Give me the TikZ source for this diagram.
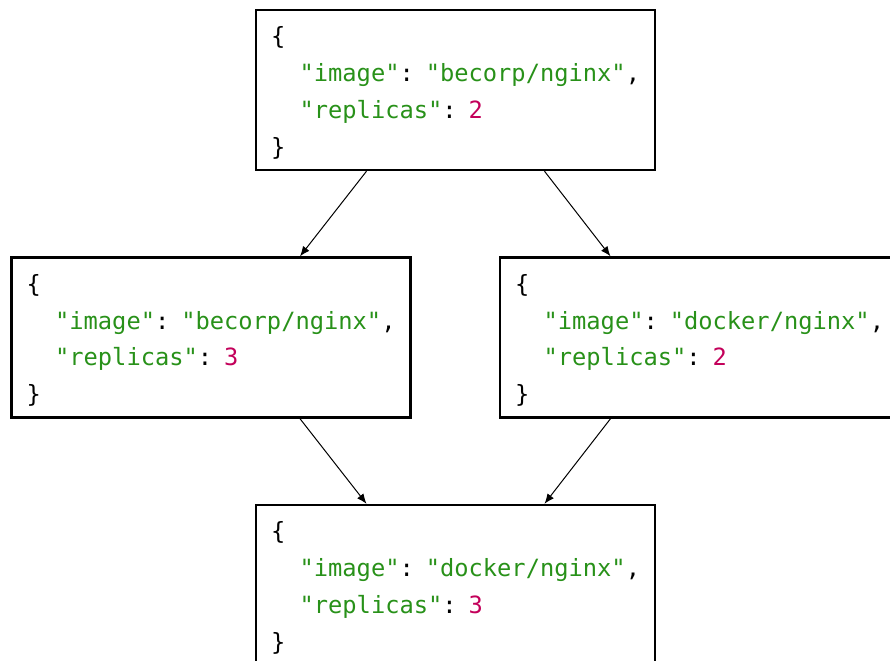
\documentclass[tikz,border=0pt]{standalone}
\usepackage{fontspec}
\usepackage{xcolor}
\setmonofont{DejaVu Sans Mono}
\usetikzlibrary{positioning,arrows.meta}
\definecolor{jsongreen}{RGB}{40,145,25}
\definecolor{jsonnum}{RGB}{195,0,90}
\newcommand{\jstr}[1]{\textcolor{jsongreen}{"#1"}}
\newcommand{\jnum}[1]{\textcolor{jsonnum}{#1}}
\newcommand{\jind}{\hphantom{xx}}
% one deployment spec: image, replicas
\newcommand{\spec}[2]{\rule{0pt}{18pt}\{\\
  \mbox{\jind\jstr{image}: \jstr{#1},}\\
  \mbox{\jind\jstr{replicas}: \jnum{#2}}\\\}}
\tikzset{
  % --- spec boxes ------------------------------------------------------------
  specbox/.style={rectangle,draw,line width=1.8pt,align=left,
                  text width=276.75pt,inner xsep=11.25pt,inner ysep=0pt,
                  minimum height=120pt,
                  font=\ttfamily\fontsize{17.8}{27.6}\selectfont},
  % --- merges ----------------------------------------------------------------
  flow/.style={-{Latex[length=7.5pt,width=6pt]},line width=0.75pt},
}

\begin{document}
\begin{tikzpicture}[x=0.75pt, y=-0.75pt]
  \useasboundingbox (0,0) rectangle (890,661);
  \clip (0,0) rectangle (890,661);

  \node[specbox] (base)   at (455.5,90)  {\spec{becorp/nginx}{2}};
  \node[specbox] (scale)  at (211,337.5) {\spec{becorp/nginx}{3}};
  \node[specbox] (image)  at (699.5,337.5) {\spec{docker/nginx}{2}};
  \node[specbox] (merged) at (455.5,585) {\spec{docker/nginx}{3}};

  % both edits start from the same base ...
  \draw[flow] ([xshift=-66.75pt]base.south) -- ([xshift=66.75pt]scale.north);
  \draw[flow] ([xshift=66.75pt]base.south) -- ([xshift=-66.75pt]image.north);
  % ... and meet again in one spec
  \draw[flow] ([xshift=66.75pt]scale.south) -- ([xshift=-66.75pt]merged.north);
  \draw[flow] ([xshift=-66.75pt]image.south) -- ([xshift=66.75pt]merged.north);
\end{tikzpicture}
\end{document}
